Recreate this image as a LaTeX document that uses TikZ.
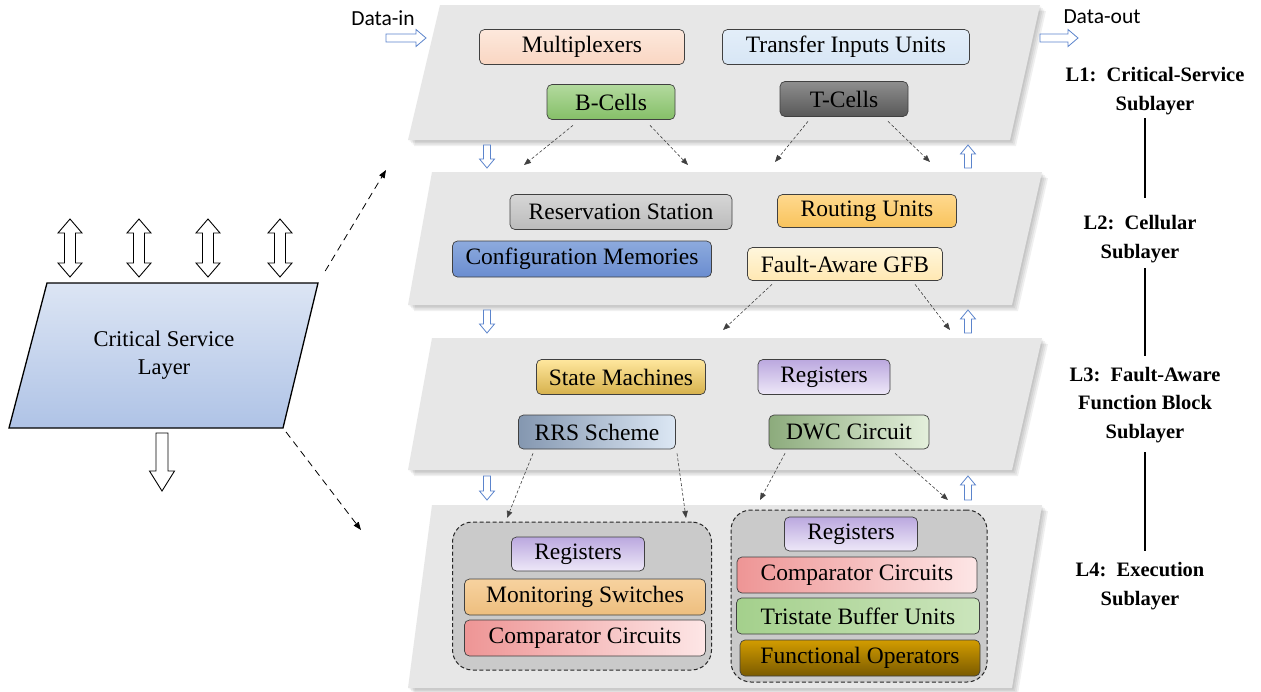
\documentclass[tikz,border=0pt]{standalone}
\usepackage{fontspec}
\setmainfont{Liberation Serif}
\newfontfamily\sansfont{Carlito}
\usetikzlibrary{arrows.meta,calc}

% colours
\definecolor{layerfill}{HTML}{E7E7E7}
\definecolor{grpfill}{HTML}{CACACA}
\definecolor{arrowblue}{HTML}{5B84CC}
\definecolor{csTop}{HTML}{DCE5F4}
\definecolor{csBot}{HTML}{AFC3E6}
\definecolor{muxA}{HTML}{FDE8DC}\definecolor{muxB}{HTML}{F9D6C2}
\definecolor{tiuA}{HTML}{E3EEF9}\definecolor{tiuB}{HTML}{D7E6F5}
\definecolor{bcA}{HTML}{B3DA9E}\definecolor{bcB}{HTML}{85BF68}
\definecolor{tcA}{HTML}{8E8E8E}\definecolor{tcB}{HTML}{585858}
\definecolor{rsA}{HTML}{D6D6D6}\definecolor{rsB}{HTML}{BBBBBB}
\definecolor{ruA}{HTML}{FFD98E}\definecolor{ruB}{HTML}{F8C35C}
\definecolor{cmA}{HTML}{8DAADD}\definecolor{cmB}{HTML}{6A8DD0}
\definecolor{gfA}{HTML}{FFF6DC}\definecolor{gfB}{HTML}{FFE8B2}
\definecolor{smA}{HTML}{FFE79E}\definecolor{smB}{HTML}{D6B14C}
\definecolor{rgA}{HTML}{BBA8DF}\definecolor{rgB}{HTML}{EEE8F8}
\definecolor{rrA}{HTML}{8497B0}\definecolor{rrB}{HTML}{DCE7F4}
\definecolor{dwA}{HTML}{8CAB7C}\definecolor{dwB}{HTML}{E4F0DC}
\definecolor{msA}{HTML}{F7D29F}\definecolor{msB}{HTML}{EDBE7E}
\definecolor{ccA}{HTML}{EE9595}\definecolor{ccB}{HTML}{FDE6E6}
\definecolor{tbA}{HTML}{A4D08C}\definecolor{tbB}{HTML}{CBE5BC}
\definecolor{foA}{HTML}{D29C00}\definecolor{foB}{HTML}{7A5A00}

\tikzset{
  box/.style={draw=black!75, line width=0.7pt, rounded corners=5pt,
    minimum height=35pt, inner sep=0pt, text=black,
    font=\fontsize{23.5}{26}\selectfont},
  grp/.style={draw=black!85, line width=1pt, dash pattern=on 4pt off 2.5pt,
    rounded corners=20pt, fill=grpfill, inner sep=0pt},
  link/.style={draw=black!75, line width=0.6pt, dash pattern=on 3pt off 2pt,
    -{Triangle[length=7pt,width=5.5pt]}},
  zoomlink/.style={draw=black, line width=0.8pt, dash pattern=on 7pt off 5pt,
    -{Triangle[length=8pt,width=6pt]}},
  barrow/.style={draw=arrowblue, line width=0.8pt, fill=white},
  hollow/.style={draw=black, line width=0.9pt, fill=white},
  lab/.style={font=\bfseries\fontsize{20.5}{28.5}\selectfont, align=center, inner sep=0pt},
  datalab/.style={font=\sansfont\fontsize{21.5}{23}\selectfont, inner sep=0pt},
  pics/blockarrow/.style n args={4}{code={
    \path[pic actions] (0,-#2) -- ({#1-#4},-#2) -- ({#1-#4},-#3) -- (#1,0)
      -- ({#1-#4},#3) -- ({#1-#4},#2) -- (0,#2) -- cycle;}},
  pics/dblarrow/.style n args={4}{code={
    \path[pic actions] (#4,-#2) -- ({#1-#4},-#2) -- ({#1-#4},-#3) -- (#1,0)
      -- ({#1-#4},#3) -- ({#1-#4},#2) -- (#4,#2) -- (#4,#3) -- (0,0)
      -- (#4,-#3) -- cycle;}}
}

\begin{document}
\begin{tikzpicture}[x=1pt,y=-1pt]
\useasboundingbox (0,0) rectangle (1261,691);
\fill[white] (0,0) rectangle (1261,691);

% the four sublayer planes with soft shadows
\foreach \tl/\tr/\bl/\br/\ty/\by in
  {440/1040/408/1010/5/140, 432/1042/408/1012/172/305,
   432/1042/408/1012/338/470, 432/1042/408/1012/505/688}{
  \foreach \d in {1.5,3,4.5,6}
    \fill[black, opacity=0.06, shift={(\d,\d)}]
      (\tl,\ty) -- (\tr,\ty) -- (\br,\by) -- (\bl,\by) -- cycle;
  \fill[layerfill] (\tl,\ty) -- (\tr,\ty) -- (\br,\by) -- (\bl,\by) -- cycle;
}

% L1: critical-service sublayer
\node[box, minimum width=205pt, top color=muxA, bottom color=muxB] (mux) at (582,47) {Multiplexers};
\node[box, minimum width=247pt, top color=tiuA, bottom color=tiuB] (tiu) at (846,47) {Transfer Inputs Units};
\node[box, minimum width=128pt, top color=bcA, bottom color=bcB] (bcells) at (611,102) {B-Cells};
\node[box, minimum width=128pt, top color=tcA, bottom color=tcB] (tcells) at (844,99) {T-Cells};

% L2: cellular sublayer
\node[box, minimum width=222pt, top color=rsA, bottom color=rsB] (resv) at (621,212) {Reservation Station};
\node[box, minimum width=179pt, minimum height=33pt, top color=ruA, bottom color=ruB] (rout) at (867,211) {Routing Units};
\node[box, minimum width=259pt, minimum height=36pt, top color=cmA, bottom color=cmB] (conf) at (582,259) {Configuration Memories};
\node[box, minimum width=195pt, minimum height=33pt, top color=gfA, bottom color=gfB] (gfb) at (845,264) {Fault-Aware GFB};

% L3: fault-aware function block sublayer
\node[box, minimum width=169pt, top color=smA, bottom color=smB] (sm) at (621,377) {State Machines};
\node[box, minimum width=132pt, top color=rgA, bottom color=rgB] (reg3) at (824,377) {Registers};
\node[box, minimum width=157pt, minimum height=34pt, left color=rrA, right color=rrB] (rrs) at (597,432) {RRS Scheme};
\node[box, minimum width=160pt, minimum height=34pt, left color=dwA, right color=dwB] (dwc) at (849,432) {DWC Circuit};

% L4: execution sublayer
\node[grp, minimum width=259pt, minimum height=148pt] (grpL) at (582,596) {};
\node[box, minimum width=133pt, minimum height=34pt, top color=rgA, bottom color=rgB] (regL) at (578,554) {Registers};
\node[box, minimum width=241pt, minimum height=36pt, top color=msA, bottom color=msB] (monL) at (585,597) {Monitoring Switches};
\node[box, minimum width=241pt, minimum height=36pt, left color=ccA, right color=ccB] (cmpL) at (585,638) {Comparator Circuits};

\node[grp, minimum width=256pt, minimum height=172pt] (grpR) at (859,596) {};
\node[box, minimum width=133pt, minimum height=34pt, top color=rgA, bottom color=rgB] (regR) at (851,534) {Registers};
\node[box, minimum width=240pt, minimum height=36pt, left color=ccA, right color=ccB] (cmpR) at (857,575) {Comparator Circuits};
\node[box, minimum width=243pt, minimum height=36pt, left color=tbA, right color=tbB] (triR) at (858,616) {Tristate Buffer Units};
\node[box, minimum width=240pt, minimum height=36pt, top color=foA, bottom color=foB] (funR) at (860,658) {Functional Operators};

% dashed links between sublayers
\coordinate (b1) at (524,165); \coordinate (b2) at (688,165);
\coordinate (t1) at (775,162); \coordinate (t2) at (930,162);
\coordinate (g1) at (723,330); \coordinate (g2) at (950,330);
\coordinate (r1) at (507,518); \coordinate (r2) at (686,518);
\coordinate (d1) at (760,500); \coordinate (d2) at (948,500);
\draw[link] ($(bcells.south)+(-38,5.5)$) -- (b1);
\draw[link] ($(bcells.south)+(39,5.5)$) -- (b2);
\draw[link] ($(tcells.south)+(-36,4.5)$) -- (t1);
\draw[link] ($(tcells.south)+(44,4.5)$) -- (t2);
\draw[link] ($(gfb.south)+(-73,3.5)$) -- (g1);
\draw[link] ($(gfb.south)+(70,3.5)$) -- (g2);
\draw[link] ($(rrs.south)+(-64,4)$) -- (r1);
\draw[link] ($(rrs.south)+(80,4)$) -- (r2);
\draw[link] ($(dwc.south)+(-64,4)$) -- (d1);
\draw[link] ($(dwc.south)+(46,4)$) -- (d2);

% data flow arrows
\node[datalab] (din) at (383,18) {Data-in};
\node[datalab] (dout) at (1102,17) {Data-out};
\pic[barrow] at (386,38) {blockarrow={40}{4}{8.5}{10}};
\pic[barrow] at (1040,38) {blockarrow={38}{4}{8.5}{10}};
\foreach \ya/\yb in {145/168, 310/333, 476/500}{
  \pic[barrow, rotate=-90] at (487,\ya) {blockarrow={\yb-\ya}{3.5}{7.5}{9}};
  \pic[barrow, rotate=90] at (968,\yb) {blockarrow={\yb-\ya}{3.5}{7.5}{9}};
}

% critical service layer
\path[top color=csTop, bottom color=csBot, draw=black, line width=1.3pt]
  (47,283) -- (318,283) -- (283,428) -- (9,428) -- cycle;
\coordinate (csNE) at (318,283);
\coordinate (csSE) at (283,428);
\node[align=center, font=\fontsize{22.5}{28}\selectfont] (csl) at (164,355) {Critical Service\\Layer};
\foreach \x in {70,139,208,280}
  \pic[hollow, rotate=-90] at (\x,219) {dblarrow={58}{5.5}{12}{14}};
\pic[hollow, rotate=-90] at (162,433) {blockarrow={58}{6}{12.5}{20}};
\coordinate (zTop) at (386,170);
\coordinate (zBot) at (361,530);
\draw[zoomlink, shorten <=14pt] (csNE) -- (zTop);
\draw[zoomlink, shorten <=5pt] (csSE) -- (zBot);

% sublayer captions
\node[lab] (l1) at (1155,91) {L1:\ \ Critical-Service\\Sublayer};
\node[lab] (l2) at (1140,239) {L2:\ \ Cellular\\Sublayer};
\node[lab] (l3) at (1145,405) {L3:\ \ Fault-Aware\\Function Block\\Sublayer};
\node[lab] (l4) at (1140,586) {L4:\ \ Execution\\Sublayer};
\draw[line width=1.3pt] (1145,118) -- (1145,198);
\draw[line width=1.3pt] (1145,268) -- (1145,356);
\draw[line width=1.3pt] (1145,452) -- (1145,551);
\end{tikzpicture}
\end{document}
